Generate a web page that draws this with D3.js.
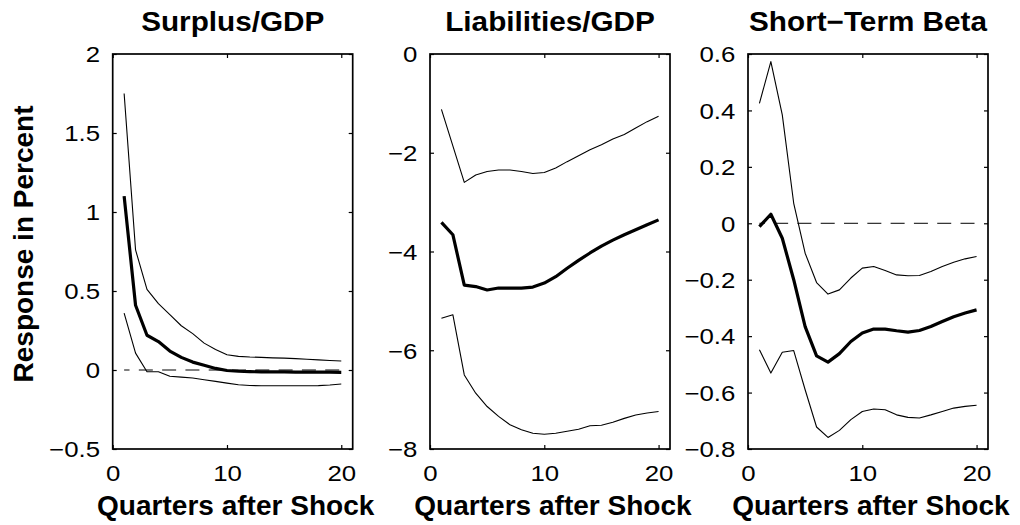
<!DOCTYPE html>
<html>
<head>
<meta charset="utf-8">
<script src="https://cdn.jsdelivr.net/npm/d3@7"></script>
<style>
  html, body { margin: 0; padding: 0; background: #fff; }
  svg { display: block; font-family: "Liberation Sans", Arial, Helvetica, sans-serif; }
</style>
</head>
<body>
<svg id="chart" width="1020" height="525"></svg>
<script>
// ---- data ----
const quarters = [1, 2, 3, 4, 5, 6, 7, 8, 9, 10, 11, 12, 13, 14, 15, 16, 17, 18, 19, 20];

const panelTitles = ["Surplus/GDP", "Liabilities/GDP", "Short\u2212Term Beta"];

const surplusMean  = [1.10, 0.41, 0.22, 0.18, 0.12, 0.08, 0.05, 0.03, 0.01, -0.003, -0.008, -0.010, -0.012, -0.012, -0.012, -0.013, -0.013, -0.014, -0.014, -0.015];
const surplusUpper = [1.75, 0.76, 0.51, 0.42, 0.35, 0.28, 0.23, 0.17, 0.13, 0.097, 0.086, 0.082, 0.080, 0.077, 0.075, 0.072, 0.068, 0.064, 0.060, 0.057];
const surplusLower = [0.36, 0.107, -0.011, -0.011, -0.040, -0.045, -0.051, -0.062, -0.072, -0.083, -0.093, -0.098, -0.100, -0.100, -0.100, -0.100, -0.100, -0.099, -0.095, -0.089];

const liabMean  = [-3.41, -3.66, -4.68, -4.71, -4.78, -4.74, -4.74, -4.74, -4.72, -4.64, -4.51, -4.34, -4.18, -4.03, -3.89, -3.77, -3.66, -3.56, -3.46, -3.36];
const liabUpper = [-1.12, -1.86, -2.60, -2.45, -2.38, -2.35, -2.35, -2.38, -2.42, -2.40, -2.31, -2.18, -2.06, -1.94, -1.84, -1.72, -1.63, -1.50, -1.37, -1.26];
const liabLower = [-5.35, -5.28, -6.50, -6.87, -7.14, -7.34, -7.51, -7.61, -7.68, -7.70, -7.68, -7.64, -7.60, -7.53, -7.52, -7.46, -7.38, -7.31, -7.27, -7.24];

const betaMean  = [-0.012, 0.032, -0.053, -0.200, -0.366, -0.470, -0.492, -0.462, -0.419, -0.389, -0.375, -0.375, -0.381, -0.386, -0.380, -0.366, -0.348, -0.331, -0.318, -0.307];
const betaUpper = [0.425, 0.573, 0.384, 0.071, -0.106, -0.210, -0.251, -0.236, -0.194, -0.159, -0.153, -0.167, -0.183, -0.186, -0.185, -0.171, -0.153, -0.138, -0.126, -0.118];
const betaLower = [-0.448, -0.531, -0.457, -0.451, -0.590, -0.722, -0.759, -0.734, -0.696, -0.667, -0.658, -0.661, -0.679, -0.688, -0.690, -0.679, -0.667, -0.655, -0.649, -0.645];

const xDomain = [0, 21];
const xTicks = [0, 10, 20];
const surplusYDomain = [-0.5, 2];
const surplusYTicks = [-0.5, 0, 0.5, 1, 1.5, 2];
const surplusYLabels = ["\u22120.5", "0", "0.5", "1", "1.5", "2"];
const liabYDomain = [-8, 0];
const liabYTicks = [-8, -6, -4, -2, 0];
const liabYLabels = ["\u22128", "\u22126", "\u22124", "\u22122", "0"];
const betaYDomain = [-0.8, 0.6];
const betaYTicks = [-0.8, -0.6, -0.4, -0.2, 0, 0.2, 0.4, 0.6];
const betaYLabels = ["\u22120.8", "\u22120.6", "\u22120.4", "\u22120.2", "0", "0.2", "0.4", "0.6"];

const xLabelText = "Quarters after Shock";
const yLabelText = "Response in Percent";

// ---- layout ----
const svg = d3.select("#chart");
const plotTop = 54, plotBottom = 449, plotW = 240;
const panelLefts = [112.7, 430, 748];
const tickLen = 4;
const tickScaleX = 1.2;
const tickFont = "21.5px";

const panels = [
  { title: panelTitles[0], mean: surplusMean, upper: surplusUpper, lower: surplusLower,
    yDomain: surplusYDomain, yTicks: surplusYTicks, yLabels: surplusYLabels, zero: true },
  { title: panelTitles[1], mean: liabMean, upper: liabUpper, lower: liabLower,
    yDomain: liabYDomain, yTicks: liabYTicks, yLabels: liabYLabels, zero: false },
  { title: panelTitles[2], mean: betaMean, upper: betaUpper, lower: betaLower,
    yDomain: betaYDomain, yTicks: betaYTicks, yLabels: betaYLabels, zero: true }
];

panels.forEach((p, i) => {
  const left = panelLefts[i];
  const x = d3.scaleLinear().domain(xDomain).range([left, left + plotW]);
  const y = d3.scaleLinear().domain(p.yDomain).range([plotBottom, plotTop]);
  const g = svg.append("g");

  // zero reference line
  if (p.zero) {
    g.append("line")
      .attr("x1", x(quarters[0])).attr("x2", x(quarters[quarters.length - 1]))
      .attr("y1", y(0)).attr("y2", y(0))
      .attr("stroke", "#000").attr("stroke-width", 1)
      .attr("stroke-dasharray", "14,9.3").attr("stroke-dashoffset", 8.6);
  }

  const line = d3.line().x((d, k) => x(quarters[k])).y(d => y(d));
  g.append("path").datum(p.upper).attr("d", line)
    .attr("fill", "none").attr("stroke", "#000").attr("stroke-width", 1.1).attr("stroke-linejoin", "round");
  g.append("path").datum(p.lower).attr("d", line)
    .attr("fill", "none").attr("stroke", "#000").attr("stroke-width", 1.1).attr("stroke-linejoin", "round");
  g.append("path").datum(p.mean).attr("d", line)
    .attr("fill", "none").attr("stroke", "#000").attr("stroke-width", 3.2).attr("stroke-linejoin", "round");

  // axes
  const fmtY = d => p.yLabels[p.yTicks.indexOf(d)];
  const axL = g.append("g").attr("transform", `translate(${left},0)`)
    .call(d3.axisLeft(y).tickValues(p.yTicks).tickSize(-tickLen).tickPadding(0).tickFormat(fmtY));
  axL.selectAll("text")
    .attr("x", -12.7 / tickScaleX)
    .attr("transform", `scale(${tickScaleX},1)`)
    .attr("dy", "0.36em");
  const axR = g.append("g").attr("transform", `translate(${left + plotW},0)`)
    .call(d3.axisRight(y).tickValues(p.yTicks).tickSize(-tickLen).tickFormat(""));
  const axB = g.append("g").attr("transform", `translate(0,${plotBottom})`)
    .call(d3.axisBottom(x).tickValues(xTicks).tickSize(-tickLen).tickPadding(16.5).tickFormat(d3.format("d")));
  axB.selectAll("text").attr("transform", `scale(${tickScaleX},1)`).attr("x", 0);
  const axT = g.append("g").attr("transform", `translate(0,${plotTop})`)
    .call(d3.axisTop(x).tickValues(xTicks).tickSize(-tickLen).tickFormat(""));

  [axL, axR, axB, axT].forEach(a => {
    a.select(".domain").remove();
    a.selectAll("line").attr("stroke", "#000").attr("stroke-width", 1.2);
    a.selectAll("text").attr("font-size", tickFont).attr("fill", "#000")
      .attr("font-family", "'Liberation Sans', Arial, Helvetica, sans-serif");
  });

  // frame
  g.append("rect")
    .attr("x", x(xDomain[0])).attr("y", y(p.yDomain[1]))
    .attr("width", x(xDomain[1]) - x(xDomain[0]))
    .attr("height", y(p.yDomain[0]) - y(p.yDomain[1]))
    .attr("fill", "none").attr("stroke", "#000").attr("stroke-width", 1.7);

  // title
  const cx = left + plotW / 2;
  g.append("text")
    .attr("transform", `translate(${cx},31) scale(1.1,1)`)
    .attr("text-anchor", "middle")
    .attr("font-size", "27px").attr("font-weight", "bold")
    .text(p.title);

  // x label
  g.append("text")
    .attr("transform", `translate(${cx + 3},515) scale(1.02,1)`)
    .attr("text-anchor", "middle")
    .attr("font-size", "27.5px").attr("font-weight", "bold")
    .text(xLabelText);
});

// y label
svg.append("text")
  .attr("transform", "translate(33,244) rotate(-90)")
  .attr("text-anchor", "middle")
  .attr("font-size", "28px").attr("font-weight", "bold")
  .text(yLabelText);
</script>
</body>
</html>
